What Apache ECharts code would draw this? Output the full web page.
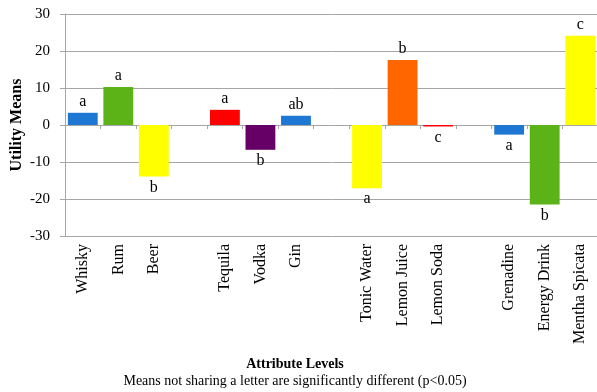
<!DOCTYPE html>
<html><head><meta charset="utf-8">
<script src="https://cdn.jsdelivr.net/npm/echarts@6/dist/echarts.min.js"></script>
<style>html,body{margin:0;padding:0;background:#fff}#c{width:597px;height:392px}</style>
</head><body><div id="c"></div>
<script>
const categories = ['Whisky','Rum','Beer','','Tequila','Vodka','Gin','','Tonic Water','Lemon Juice','Lemon Soda','','Grenadine','Energy Drink','Mentha Spicata'];
const utilityMeans = [3.3, 10.3, -13.9, null, 4.1, -6.7, 2.5, null, -17.1, 17.6, -0.4, null, -2.6, -21.5, 24.1];
const letters = ['a','a','b','','a','b','ab','','a','b','c','','a','b','c'];
const yMin = -30, yMax = 30, yStep = 10;
const barColors = ['#1f77d4','#5bb318','#ffff00',null,'#ff0000','#660066','#1f77d4',null,'#ffff00','#ff6600','#ff0000',null,'#1f77d4','#5bb318','#ffff00'];

const FONT = '"Liberation Serif","Times New Roman",serif';
const GRID = '#a6a6a6';

const chart = echarts.init(document.getElementById('c'), null, {renderer: 'canvas'});
const seriesData = utilityMeans.map((v, i) => {
  if (v === null) return '-';
  return {
    value: v,
    itemStyle: {color: barColors[i]},
    label: {position: v >= 0 ? 'top' : 'bottom'}
  };
});

chart.setOption({
  animation: false,
  backgroundColor: '#fff',
  title: [
    {text: 'Attribute Levels', left: 290, top: 352, textAlign: 'center',
     textStyle: {fontFamily: FONT, fontSize: 14, fontWeight: 'bold', color: '#000'}},
    {text: 'Means not sharing a letter are significantly different (p<0.05)', left: 290, top: 369, textAlign: 'center',
     textStyle: {fontFamily: FONT, fontSize: 14, fontWeight: 'normal', color: '#000'}}
  ],
  grid: {left: 65, right: -1, top: 14, bottom: 156, containLabel: false, outerBoundsMode: 'none'},
  xAxis: [
    {type: 'category', data: categories, position: 'bottom',
     axisLine: {show: false, onZero: false}, axisTick: {show: false},
     axisLabel: {rotate: 90, interval: 0, margin: 8, fontFamily: FONT, fontSize: 16, color: '#000'},
     splitLine: {show: false}},
    {type: 'category', data: categories, position: 'bottom',
     axisLine: {show: true, onZero: true, lineStyle: {color: GRID, width: 1}},
     axisTick: {show: true, interval: 0, length: 4, lineStyle: {color: GRID}},
     axisLabel: {show: false}, splitLine: {show: false}}
  ],
  yAxis: {
    type: 'value', min: yMin, max: yMax, interval: yStep,
    name: 'Utility Means', nameLocation: 'middle', nameGap: 40, nameMoveOverlap: false,
    nameTextStyle: {fontFamily: FONT, fontSize: 16, fontWeight: 'bold', color: '#000'},
    axisLine: {show: true, lineStyle: {color: GRID}},
    axisTick: {show: true, length: 5, lineStyle: {color: GRID}},
    axisLabel: {fontFamily: FONT, fontSize: 15, color: '#000', margin: 15},
    splitLine: {show: true, lineStyle: {color: GRID, width: 1}}
  },
  series: [{
    type: 'bar', xAxisIndex: 0, data: seriesData, barCategoryGap: '16%',
    label: {show: true, distance: 3, fontFamily: FONT, fontSize: 16, color: '#000',
      formatter: p => letters[p.dataIndex]}
  }]
});
</script></body></html>
